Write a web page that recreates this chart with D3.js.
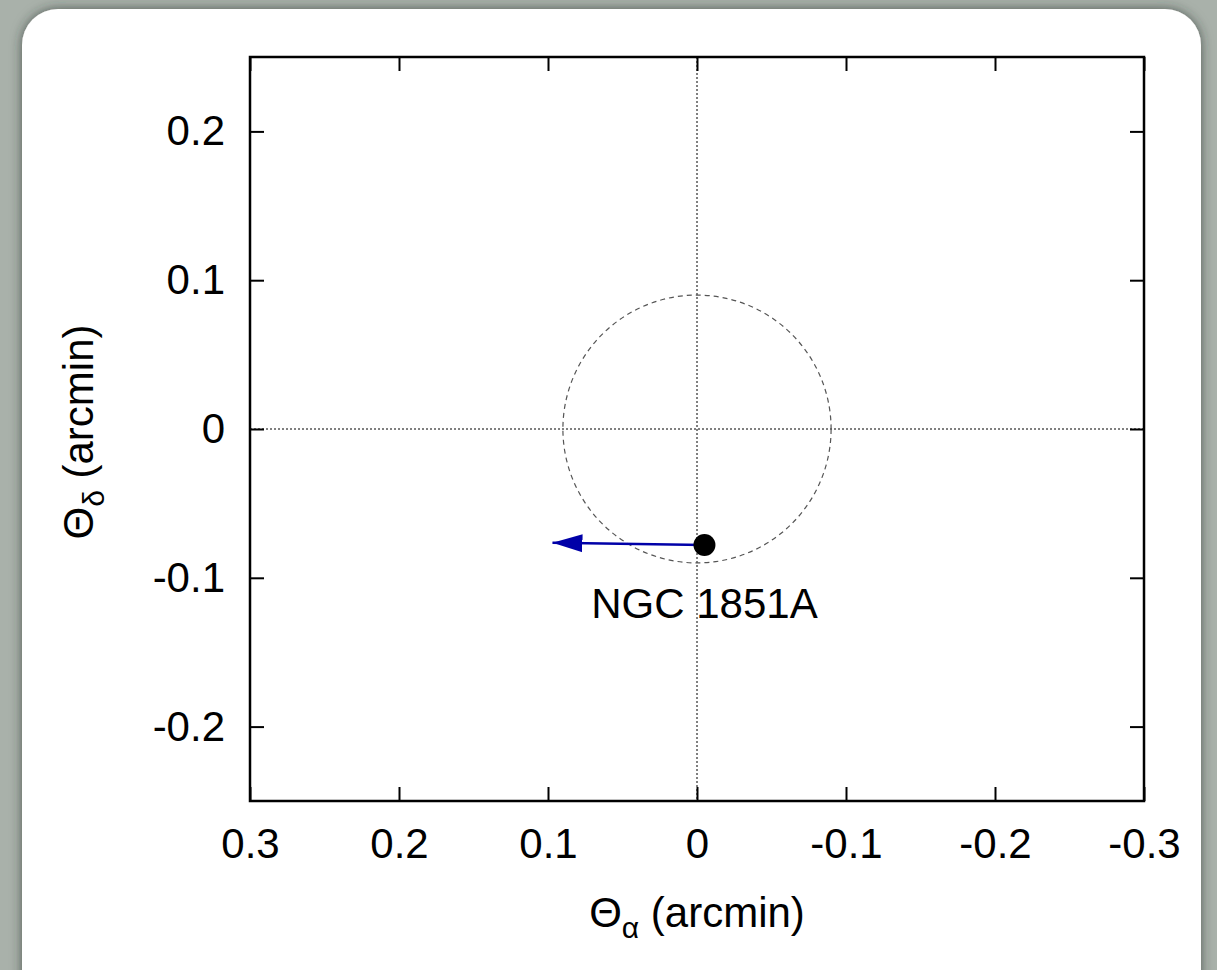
<!DOCTYPE html>
<html>
<head>
<meta charset="utf-8">
<script src="https://cdn.jsdelivr.net/npm/d3@7"></script>
<style>
  html, body { margin: 0; padding: 0; background: #a9b1aa; }
  svg { display: block; }
  text { font-family: "Liberation Sans", Arial, Helvetica, sans-serif; fill: #000; }
</style>
</head>
<body>
<svg id="chart" width="1217" height="970"></svg>
<script>
// axis ranges and tick values (arcmin)
const xDomain = [0.3, -0.3];
const yDomain = [-0.25, 0.25];
const xTicks = [0.3, 0.2, 0.1, 0, -0.1, -0.2, -0.3];
const yTicks = [-0.2, -0.1, 0, 0.1, 0.2];

// cluster positions, proper-motion arrow end, and the dashed ring radius
const clusterNames = ["NGC 1851A"];
const clusterX = [-0.005];
const clusterY = [-0.078];
const arrowEndX = [0.097];
const arrowEndY = [-0.0765];
const ringRadius = 0.09;

const width = 1217, height = 970;
const margin = { left: 250, right: 1144, top: 57, bottom: 801 };
const fontSize = 42;

const svg = d3.select("#chart");

const defs = svg.append("defs");
const shadow = defs.append("filter").attr("id", "shadow")
    .attr("x", "-5%").attr("y", "-5%").attr("width", "110%").attr("height", "110%");
shadow.append("feDropShadow")
    .attr("dx", 0).attr("dy", 0).attr("stdDeviation", 6)
    .attr("flood-color", "#2b302d").attr("flood-opacity", 0.7);

defs.append("marker")
    .attr("id", "arrowhead")
    .attr("viewBox", "0 0 30 20")
    .attr("refX", 30).attr("refY", 10)
    .attr("markerWidth", 30).attr("markerHeight", 20)
    .attr("markerUnits", "userSpaceOnUse")
    .attr("orient", "auto")
  .append("path")
    .attr("d", "M0,1 L30,10 L0,19 Z")
    .attr("fill", "#0000a8");

// white panel
svg.append("rect")
    .attr("x", 22).attr("y", 9)
    .attr("width", 1179).attr("height", 1020)
    .attr("rx", 36).attr("ry", 36)
    .attr("fill", "#fff")
    .attr("filter", "url(#shadow)");

const x = d3.scaleLinear().domain(xDomain).range([margin.left, margin.right]);
const y = d3.scaleLinear().domain(yDomain).range([margin.bottom, margin.top]);

// zero lines
svg.append("line")
    .attr("x1", x(0)).attr("x2", x(0))
    .attr("y1", margin.top).attr("y2", margin.bottom)
    .attr("stroke", "#000").attr("stroke-width", 1)
    .attr("stroke-dasharray", "2,2");
svg.append("line")
    .attr("x1", margin.left).attr("x2", margin.right)
    .attr("y1", y(0)).attr("y2", y(0))
    .attr("stroke", "#000").attr("stroke-width", 1)
    .attr("stroke-dasharray", "2,2");

// dashed ring
svg.append("ellipse")
    .attr("cx", x(0)).attr("cy", y(0))
    .attr("rx", Math.abs(x(ringRadius) - x(0)))
    .attr("ry", Math.abs(y(ringRadius) - y(0)))
    .attr("fill", "none")
    .attr("stroke", "#555").attr("stroke-width", 1.2)
    .attr("stroke-dasharray", "5,4");

// axes, ticks pointing inward
const tickLen = 14;
const fmt = d => d === 0 ? "0" : d.toFixed(1); // plain hyphen minus, like the original

const xAxis = svg.append("g")
    .attr("transform", `translate(0,${margin.bottom})`)
    .call(d3.axisBottom(x).tickValues(xTicks).tickSize(-tickLen).tickFormat(fmt));
const xAxisTop = svg.append("g")
    .attr("transform", `translate(0,${margin.top})`)
    .call(d3.axisTop(x).tickValues(xTicks).tickSize(-tickLen).tickFormat(""));
const yAxis = svg.append("g")
    .attr("transform", `translate(${margin.left},0)`)
    .call(d3.axisLeft(y).tickValues(yTicks).tickSize(-tickLen).tickFormat(fmt));
const yAxisRight = svg.append("g")
    .attr("transform", `translate(${margin.right},0)`)
    .call(d3.axisRight(y).tickValues(yTicks).tickSize(-tickLen).tickFormat(""));

[xAxis, xAxisTop, yAxis, yAxisRight].forEach(g => {
  g.select(".domain").remove();
  g.selectAll(".tick line").attr("stroke", "#000").attr("stroke-width", 2);
  g.selectAll("text").attr("font-size", fontSize).attr("fill", "#000")
    .style("font-family", '"Liberation Sans", Arial, sans-serif');
});
xAxis.selectAll("text").attr("dy", null).attr("y", 57);
yAxis.selectAll("text").attr("x", -25);

// frame
svg.append("rect")
    .attr("x", margin.left).attr("y", margin.top)
    .attr("width", margin.right - margin.left)
    .attr("height", margin.bottom - margin.top)
    .attr("fill", "none").attr("stroke", "#000").attr("stroke-width", 2.5);

// proper-motion arrows
svg.selectAll(".pm")
  .data(clusterNames)
  .join("line")
    .attr("class", "pm")
    .attr("x1", (d, i) => x(clusterX[i]))
    .attr("y1", (d, i) => y(clusterY[i]))
    .attr("x2", (d, i) => x(arrowEndX[i]))
    .attr("y2", (d, i) => y(arrowEndY[i]))
    .attr("stroke", "#0000a8").attr("stroke-width", 2.5)
    .attr("marker-end", "url(#arrowhead)");

// cluster points
svg.selectAll(".pt")
  .data(clusterNames)
  .join("circle")
    .attr("class", "pt")
    .attr("cx", (d, i) => x(clusterX[i]))
    .attr("cy", (d, i) => y(clusterY[i]))
    .attr("r", 11)
    .attr("fill", "#000");

svg.selectAll(".lbl")
  .data(clusterNames)
  .join("text")
    .attr("class", "lbl")
    .attr("x", (d, i) => x(clusterX[i]))
    .attr("y", (d, i) => y(clusterY[i]) + 73)
    .attr("text-anchor", "middle")
    .attr("font-size", fontSize)
    .text(d => d);

// axis titles
const xt = svg.append("text")
    .attr("x", 697).attr("y", 927)
    .attr("text-anchor", "middle")
    .attr("font-size", fontSize);
xt.append("tspan").text("Θ");
xt.append("tspan").attr("font-size", 30).attr("dy", 11).text("α");
xt.append("tspan").attr("dy", -11).text(" (arcmin)");

const yt = svg.append("text")
    .attr("transform", "translate(93,432) rotate(-90)")
    .attr("text-anchor", "middle")
    .attr("font-size", fontSize);
yt.append("tspan").text("Θ");
yt.append("tspan").attr("font-size", 30).attr("dy", 11).text("δ");
yt.append("tspan").attr("dy", -11).text(" (arcmin)");
</script>
</body>
</html>
